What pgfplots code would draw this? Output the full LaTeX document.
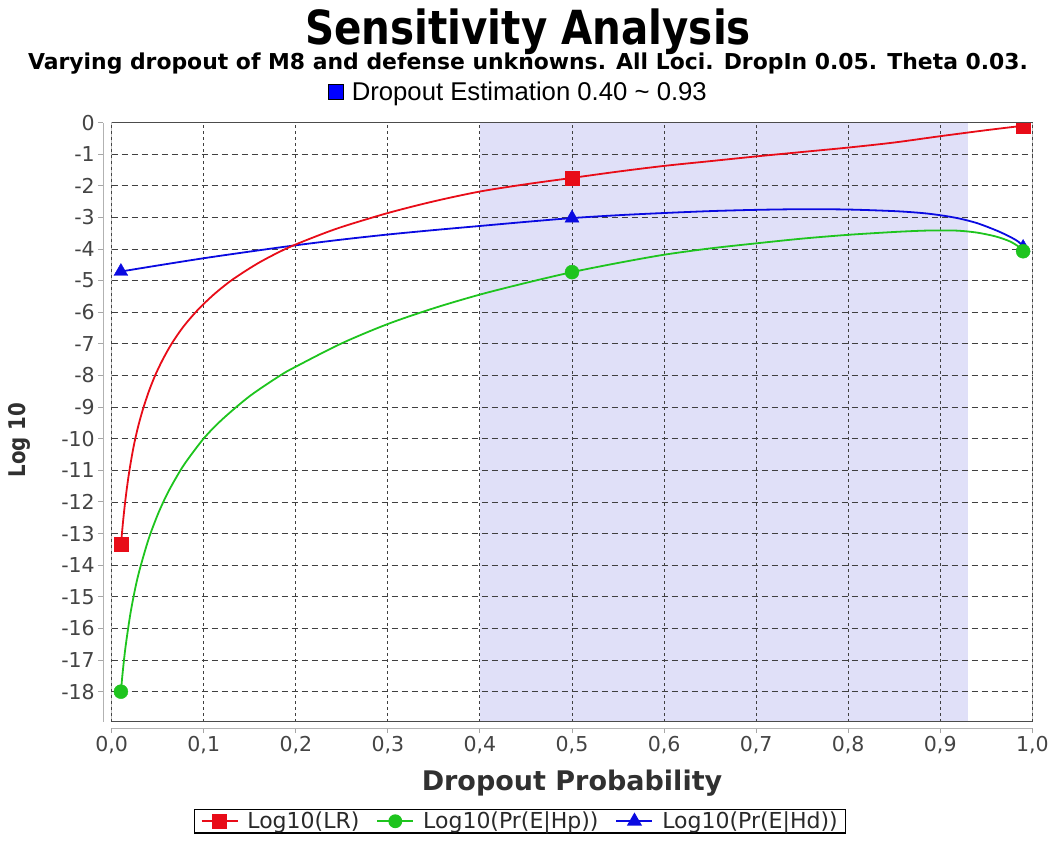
\documentclass[border=0pt]{standalone}
\usepackage{pgfplots}
\pgfplotsset{compat=1.18}
\usepackage{fontspec}
\setmainfont{DejaVu Sans}
\newfontfamily\condfont{DejaVu Sans}[FakeStretch=0.86]
\newfontfamily\arialfont{Liberation Sans}
\definecolor{shade}{RGB}{224,224,248}
\definecolor{cred}{RGB}{232,12,24}
\definecolor{cgreen}{RGB}{30,196,30}
\definecolor{cblue}{RGB}{10,10,225}
\definecolor{tickgray}{RGB}{68,68,68}

\pgfplotstableread{
x y
0.010 -13.38
0.011 -13.04
0.0125 -12.57
0.0145 -12.03
0.0165 -11.56
0.019 -11.05
0.022 -10.53
0.025 -10.08
0.029 -9.58
0.034 -9.06
0.040 -8.53
0.047 -8.01
0.055 -7.52
0.065 -7.0
0.078 -6.45
0.094 -5.91
0.112 -5.41
0.132 -4.95
0.16 -4.43
0.19 -3.98
0.22 -3.62
0.25 -3.30
0.30 -2.86
0.35 -2.49
0.40 -2.18
0.45 -1.95
0.50 -1.75
0.55 -1.55
0.60 -1.37
0.65 -1.22
0.70 -1.07
0.75 -0.93
0.80 -0.79
0.85 -0.63
0.90 -0.43
0.95 -0.24
0.99 -0.10
}\lr

\pgfplotstableread{
x y
0.010 -18.0
0.012 -17.37
0.015 -16.59
0.020 -15.59
0.025 -14.81
0.030 -14.18
0.040 -13.18
0.050 -12.40
0.060 -11.76
0.070 -11.23
0.080 -10.76
0.100 -9.99
0.120 -9.39
0.150 -8.65
0.183 -8.00
0.200 -7.72
0.250 -6.98
0.300 -6.37
0.350 -5.87
0.400 -5.44
0.450 -5.07
0.500 -4.73
0.550 -4.44
0.600 -4.18
0.650 -3.98
0.700 -3.82
0.750 -3.67
0.800 -3.55
0.850 -3.46
0.880 -3.42
0.900 -3.41
0.920 -3.42
0.940 -3.48
0.960 -3.60
0.975 -3.75
0.985 -3.92
0.990 -4.07
}\hp

\pgfplotstableread{
x y
0.010 -4.71
0.050 -4.52
0.100 -4.29
0.150 -4.08
0.200 -3.88
0.250 -3.70
0.300 -3.54
0.350 -3.40
0.400 -3.27
0.450 -3.14
0.500 -3.02
0.550 -2.93
0.600 -2.86
0.650 -2.80
0.700 -2.76
0.750 -2.74
0.800 -2.75
0.850 -2.80
0.880 -2.86
0.900 -2.93
0.920 -3.03
0.940 -3.18
0.960 -3.40
0.975 -3.60
0.985 -3.77
0.990 -3.92
}\hd

\begin{document}
\begin{tikzpicture}
\begin{axis}[
  set layers,
  at={(0pt,0pt)}, anchor=south west,
  scale only axis, width=920.6pt, height=599.1pt,
  xmin=0, xmax=1, ymin=-18.95, ymax=0,
  axis lines*=left,
  axis x line shift=6.5pt,
  axis y line shift=8.4pt,
  axis line style={draw=black!30, line width=1.4pt},
  tick style={draw=black!35, line width=1pt},
  tick align=outside,
  major tick length=5pt,
  xtick={0,0.1,0.2,0.3,0.4,0.5,0.6,0.7,0.8,0.9,1},
  ytick={-18,-17,-16,-15,-14,-13,-12,-11,-10,-9,-8,-7,-6,-5,-4,-3,-2,-1,0},
  grid=major,
  major x grid style={draw=black!75, line width=0.9pt, dash pattern=on 3pt off 3pt},
  major y grid style={draw=black!75, line width=0.9pt, dash pattern=on 6pt off 4pt},
  /pgf/number format/assume math mode=true,
  xticklabel style={font=\fontsize{20.5}{24}\selectfont, text=tickgray,
    /pgf/number format/.cd, use comma, fixed, fixed zerofill, precision=1},
  yticklabel style={font=\fontsize{20.5}{24}\selectfont, text=tickgray},
  legend style={at={(0.4437,-0.1457)}, anchor=north, draw=black, line width=1.2pt,
    font=\fontsize{22}{25}\selectfont, text=tickgray!60!black, legend columns=3,
    inner xsep=6pt, inner ysep=0.5pt,
    /tikz/every odd column/.append style={column sep=7pt},
    /tikz/every even column/.append style={column sep=15pt}},
  legend cell align=left,
  legend image code/.code={\draw[#1, line width=1.8pt, mark repeat=2, mark phase=2] plot coordinates {(0pt,0pt) (18pt,0pt) (36pt,0pt)};},
]
\addplot[draw=none, fill=shade, on layer=axis background, forget plot]
  coordinates {(0.40,-18.95) (0.93,-18.95) (0.93,0) (0.40,0)} \closedcycle;
\addplot[cblue, line width=1.8pt, smooth, tension=0.5, no marks, forget plot] table[x=x,y=y] {\hd};
\addplot[cblue, only marks, mark=triangle*, mark size=8pt, forget plot] coordinates {(0.01,-4.71) (0.5,-3.02) (0.99,-3.95)};
\addplot[cgreen, line width=1.8pt, smooth, tension=0.5, no marks, forget plot] table[x=x,y=y] {\hp};
\addplot[cgreen, only marks, mark=*, mark size=7pt, forget plot] coordinates {(0.01,-18.0) (0.5,-4.73) (0.99,-4.07)};
\addplot[cred, line width=1.8pt, smooth, tension=0.5, no marks, forget plot] table[x=x,y=y] {\lr};
\addplot[cred, only marks, mark=square*, mark size=7pt, clip marker paths=true, forget plot] coordinates {(0.01,-13.35) (0.5,-1.75) (0.99,-0.1)};
\addlegendimage{cred, mark=square*, mark size=6.5pt}
\addlegendentry{Log10(LR)}
\addlegendimage{cgreen, mark=*, mark size=6pt}
\addlegendentry{Log10(Pr(E|Hp))}
\addlegendimage{cblue, mark=triangle*, mark size=7pt}
\addlegendentry{Log10(Pr(E|Hd))}
\draw[black!70, line width=1.1pt] (rel axis cs:0,0) rectangle (rel axis cs:1,1);
\end{axis}
\begin{axis}[
  at={(0pt,0pt)}, anchor=south west,
  scale only axis, width=920.6pt, height=599.1pt,
  xmin=0, xmax=1, ymin=-18.95, ymax=0,
  hide axis,
  legend style={at={(0.442,1.051)}, anchor=center, draw=none, fill=none,
    font=\arialfont\fontsize{25.7}{28}\selectfont, text=black,
    /tikz/every odd column/.append style={column sep=6pt}},
  legend image code/.code={\fill[#1] (0pt,-7.5pt) rectangle (15pt,7.5pt);},
]
\addplot[draw=none, forget plot] coordinates {(0,0) (1,-18.95)};
\addlegendimage{fill=blue}
\addlegendentry{Dropout Estimation 0.40 \char`\~{} 0.93}
\end{axis}
\node[anchor=base, font=\condfont\bfseries\fontsize{47}{50}\selectfont] at (416.3pt,676.7pt) {Sensitivity Analysis};
\node[anchor=base, font=\bfseries\fontsize{21.9}{25}\selectfont] at (416.3pt,652.2pt) {Varying dropout of M8 and defense unknowns. All Loci. DropIn 0.05. Theta 0.03.};
\node[anchor=base, font=\bfseries\fontsize{27}{30}\selectfont, text=tickgray!70!black] at (460.3pt,-68.3pt) {Dropout Probability};
\node[rotate=90, font=\condfont\bfseries\fontsize{23}{26}\selectfont, text=tickgray!70!black] at (-92.2pt,281.7pt) {Log 10};
\path (-111.7pt,-121.3pt) rectangle (944.3pt,721.7pt);
\end{tikzpicture}
\end{document}
